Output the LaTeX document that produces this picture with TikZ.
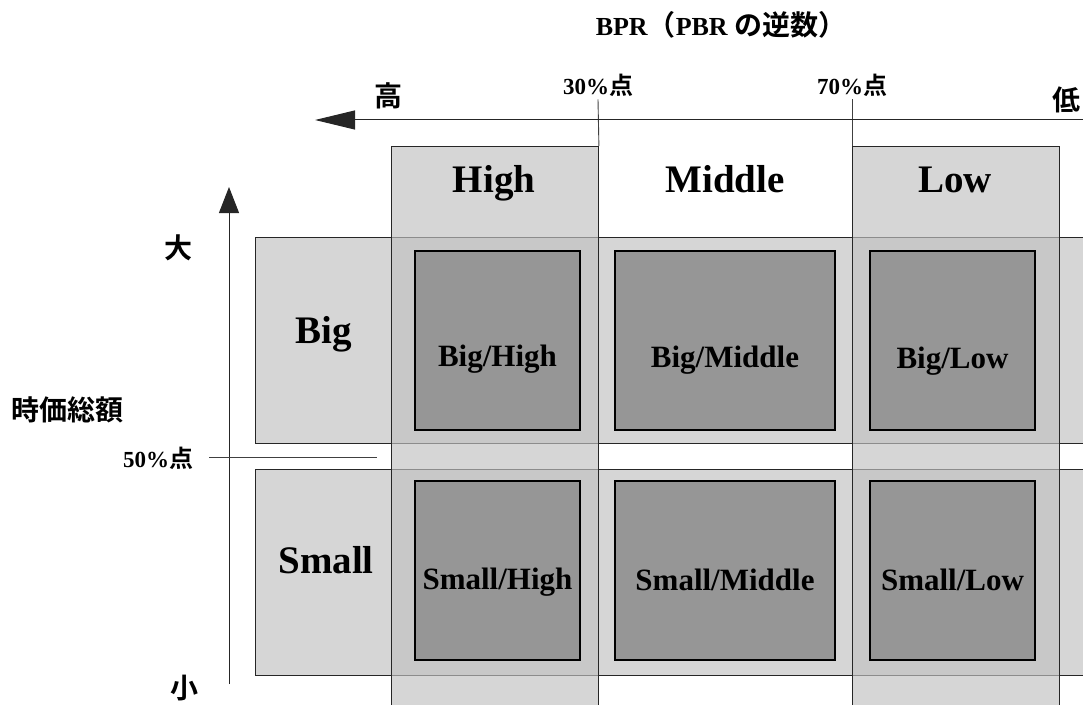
\documentclass[tikz,border=0pt]{standalone}
\usepackage{fontspec}
\setmainfont{Liberation Serif}
\newfontfamily\jp{Noto Sans CJK JP}[BoldFont={Noto Sans CJK JP Bold}]
\usetikzlibrary{arrows.meta,calc}
\definecolor{rowgray}{HTML}{D6D6D6}
\definecolor{colgray}{HTML}{C1C1C1}
\definecolor{cellgray}{HTML}{969696}
\begin{document}
\begin{tikzpicture}[x=1bp,y=-1bp,
  band/.style={draw=black!85, line width=0.9bp, fill=rowgray, inner sep=0pt},
  colband/.style={draw=black!85, line width=0.9bp, fill=colgray, fill opacity=0.66, inner sep=0pt},
  cell/.style={draw=black, line width=2.6bp, fill=cellgray, inner sep=0pt, minimum height=179bp},
  head/.style={font=\bfseries\fontsize{39bp}{44bp}\selectfont, inner sep=0pt, anchor=base},
  celltext/.style={font=\bfseries\fontsize{31bp}{36bp}\selectfont, inner sep=0pt, anchor=base},
  jlab/.style={font=\jp\bfseries\fontsize{28bp}{32bp}\selectfont, inner sep=0pt},
  pct/.style={font=\bfseries\fontsize{23bp}{28bp}\selectfont, inner sep=0pt},
  axis/.style={draw=black!85, line width=1bp},
  thinline/.style={draw=black!75, line width=0.9bp}
]
\useasboundingbox (0,0) rectangle (1083,705);
\clip (0,0) rectangle (1083,705);

% title
\node[font=\bfseries\fontsize{26bp}{30bp}\selectfont, inner sep=0pt] (title) at (721,25)
  {BPR{\jp\fontsize{28bp}{30bp}\selectfont （}PBR {\jp\fontsize{28bp}{30bp}\selectfont の逆数）}};

% rows
\node[band, minimum width=840bp, minimum height=206bp, anchor=north west] (bigrow) at (255,237) {};
\node[band, minimum width=840bp, minimum height=206bp, anchor=north west] (smallrow) at (255,469) {};

% columns
\node[colband, minimum width=207.5bp, minimum height=580bp, anchor=north west] (high) at (390.5,146) {};
\node[colband, minimum width=207bp, minimum height=580bp, anchor=north west] (low) at (852,146) {};

% percentile labels on the BPR axis
\node[pct] (p30) at (598,85) {30\%{\jp\fontsize{24bp}{28bp}\selectfont 点}};
\node[pct] (p70) at (852,85) {70\%{\jp\fontsize{24bp}{28bp}\selectfont 点}};
\draw[thinline] ([yshift=-3bp]p30.south) -- (high.north east);
\draw[thinline] ([yshift=-3bp]p70.south) -- (low.north west);

% horizontal axis
\coordinate (hr) at (1083,120);
\coordinate (hl) at (315,120);
\draw[axis, -{Triangle[length=40bp,width=19bp]}] (hr) -- (hl);
\node[jlab] (hi) at (388,96) {高};
\node[jlab] (lo) at (1066,100) {低};

% column headers
\node[head] (hhigh) at (494,193) {High};
\node[head] (hmid) at (725,193) {Middle};
\node[head] (hlow) at (955,193) {Low};

% row headers
\node[head] (rbig) at (324,343) {Big};
\node[head] (rsmall) at (326,573) {Small};

% vertical axis
\coordinate (vb) at (229,684);
\coordinate (vt) at (229,187);
\draw[axis, -{Triangle[length=26bp,width=20bp]}] (vb) -- (vt);
\node[jlab] (dai) at (178,248) {大};
\node[jlab] (sho) at (184,688) {小};
\node[jlab] (jika) at (68,410) {時価総額};
\node[pct] (p50) at (158,458) {50\%{\jp\fontsize{24bp}{28bp}\selectfont 点}};
\coordinate (m50) at (377,457);
\draw[thinline] ([xshift=16bp]p50.east |- m50) -- (m50);

% cells
\node[cell, minimum width=165bp] (bh) at (497.5,340.5) {};
\node[cell, minimum width=220bp] (bm) at (725,340.5) {};
\node[cell, minimum width=165bp] (bl) at (952.5,340.5) {};
\node[cell, minimum width=165bp] (sh) at (497.5,570.5) {};
\node[cell, minimum width=220bp] (sm) at (725,570.5) {};
\node[cell, minimum width=165bp] (sl) at (952.5,570.5) {};

\node[celltext] at (bh.center |- 0,366) {Big/High};
\node[celltext] at (bm.center |- 0,367) {Big/Middle};
\node[celltext] at (bl.center |- 0,368) {Big/Low};
\node[celltext] at (sh.center |- 0,589) {Small/High};
\node[celltext] at (sm.center |- 0,590) {Small/Middle};
\node[celltext] at (sl.center |- 0,590) {Small/Low};
\end{tikzpicture}
\end{document}
